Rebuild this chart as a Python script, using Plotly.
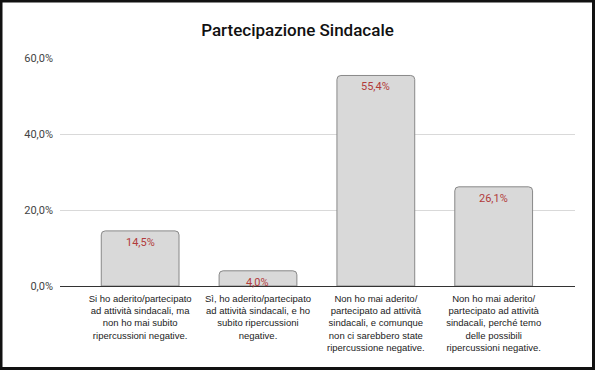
import plotly.graph_objects as go

categories = [
    "Si ho aderito/partecipato<br>ad attività sindacali, ma<br>non ho mai subito<br>ripercussioni negative.",
    "Sì, ho aderito/partecipato<br>ad attività sindacali, e ho<br>subito ripercussioni<br>negative.",
    "Non ho mai aderito/<br>partecipato ad attività<br>sindacali, e comunque<br>non ci sarebbero state<br>ripercussione negative.",
    "Non ho mai aderito/<br>partecipato ad attività<br>sindacali, perché temo<br>delle possibili<br>ripercussioni negative.",
]
values = [14.5, 4.0, 55.4, 26.1]
value_labels = ["14,5%", "4,0%", "55,4%", "26,1%"]
y_tickvals = [0, 20, 40, 60]
y_ticktext = ["0,0%", "20,0%", "40,0%", "60,0%"]

W, H = 595, 371
ML, MR, MT, MB = 60, 20, 58, 85
pw, ph = W - ML - MR, H - MT - MB

def px_x(p):
    return (p - ML) / pw

def px_y(p):
    return (H - MB - p) / ph

xs = list(range(len(categories)))

fig = go.Figure(go.Bar(
    x=xs,
    y=values,
    marker=dict(color="#d9d9d9", line=dict(color="#888888", width=1)),
    width=0.66,
    hoverinfo="skip",
))

annotations = [
    dict(x=x, y=v, xref="x", yref="y", text=t, showarrow=False,
         yanchor="top", yshift=-3,
         font=dict(color="#b23b3b", size=11, family="Roboto, Arial, sans-serif"))
    for x, v, t in zip(xs, values, value_labels)
]

fig.update_layout(
    width=W, height=H,
    margin=dict(l=ML, r=MR, t=MT, b=MB),
    paper_bgcolor="white", plot_bgcolor="white",
    barcornerradius=4,
    showlegend=False,
    annotations=annotations,
    title=dict(text="Partecipazione Sindacale", x=0.5, xanchor="center",
               y=1 - 30 / H, yanchor="middle",
               font=dict(size=17, color="#111111", family="Roboto, Arial, sans-serif", weight=500)),
    xaxis=dict(
        range=[-0.68, 3.69],
        tickvals=xs,
        ticktext=categories,
        showgrid=False,
        showline=False,
        zeroline=False,
        ticks="",
        ticklabelstandoff=5,
        tickfont=dict(size=9.5, color="#222222", family="Arial, Liberation Sans, sans-serif"),
    ),
    yaxis=dict(
        range=[0, 60],
        tickvals=y_tickvals,
        ticktext=y_ticktext,
        showgrid=True, gridcolor="#d9d9d9", gridwidth=1,
        zeroline=True, zerolinecolor="#333333", zerolinewidth=1,
        ticks="",
        tickfont=dict(size=11, color="#444444", family="Roboto, Arial, sans-serif"),
        ticklabelstandoff=6,
    ),
    shapes=[dict(
        type="rect", xref="paper", yref="paper",
        x0=px_x(1), x1=px_x(593.5), y0=px_y(368.5), y1=px_y(1),
        line=dict(color="#111111", width=3), fillcolor="rgba(0,0,0,0)",
    )],
)

fig.write_html(
    "out.html",
    config={"displayModeBar": False},
    post_script="document.body.style.margin='0';document.body.style.overflow='hidden';",
)
